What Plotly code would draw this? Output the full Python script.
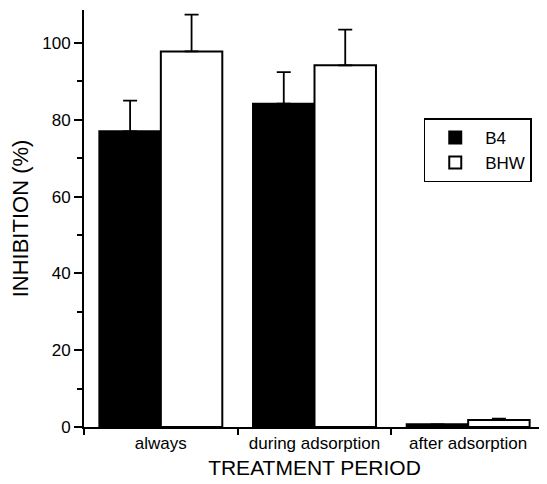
import plotly.graph_objects as go

categories = ["always", "during adsorption", "after adsorption"]
b4_values = [77.0, 84.2, 0.7]
b4_errors = [8.0, 8.2, 0.0]
bhw_values = [97.8, 94.2, 1.8]
bhw_errors = [9.6, 9.3, 0.4]

fig = go.Figure()
fig.add_trace(go.Bar(
    x=categories, y=b4_values, name="B4",
    marker=dict(color="black", line=dict(color="black", width=2)),
    error_y=dict(type="data", symmetric=False, array=b4_errors,
                 arrayminus=[0, 0, 0], color="black", thickness=1.8, width=7),
))
fig.add_trace(go.Bar(
    x=categories, y=bhw_values, name="BHW",
    marker=dict(color="white", line=dict(color="black", width=2)),
    error_y=dict(type="data", symmetric=False, array=bhw_errors,
                 arrayminus=[0, 0, 0], color="black", thickness=1.8, width=7),
))

# The page body has an 8px default margin, so the figure is 8px smaller
fig.update_layout(
    width=539, height=476,
    margin=dict(l=76, r=2, t=2, b=57, autoexpand=False),
    paper_bgcolor="white", plot_bgcolor="white",
    barmode="group", bargap=0.2, bargroupgap=0,
    font=dict(family="Liberation Sans, Arial, sans-serif", color="black"),
    showlegend=True,
    legend=dict(x=0.737, y=0.74, xanchor="left", yanchor="top",
                bordercolor="black", borderwidth=1.5, bgcolor="white",
                font=dict(size=17), tracegroupgap=0, itemwidth=50),
)
fig.update_xaxes(
    automargin=False,
    showline=True, linecolor="black", linewidth=2,
    ticks="outside", tickson="boundaries", ticklen=6, tickwidth=2, tickcolor="black",
    tickfont=dict(size=17),
    title=dict(text="TREATMENT PERIOD", font=dict(size=21), standoff=8),
    showgrid=False, zeroline=False,
)
fig.update_yaxes(
    automargin=False,
    range=[0, 108.6], showline=True, linecolor="black", linewidth=2,
    ticks="outside", ticklen=8, tickwidth=2, tickcolor="black",
    tickvals=[0, 20, 40, 60, 80, 100], tickfont=dict(size=17),
    minor=dict(ticks="outside", ticklen=5, tickwidth=1.5, tickcolor="black",
               tickvals=[10, 30, 50, 70, 90]),
    title=dict(text="INHIBITION (%)", font=dict(size=22), standoff=10),
    showgrid=False, zeroline=False,
)

fig.write_html("out.html")
